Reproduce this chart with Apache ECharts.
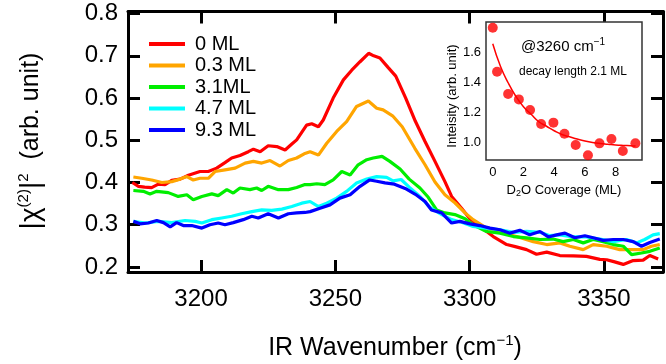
<!DOCTYPE html>
<html><head><meta charset="utf-8">
<script src="https://cdn.jsdelivr.net/npm/echarts@6/dist/echarts.min.js"></script>
<style>html,body{margin:0;padding:0;background:#fff}#c{width:666px;height:364px}</style>
</head><body><div id="c"></div>
<script>
// ---------- data ----------
const seriesNames = ['0 ML', '0.3 ML', '3.1ML', '4.7 ML', '9.3 ML'];
const xTickValues = [3200, 3250, 3300, 3350];
const yTickValues = [0.2, 0.3, 0.4, 0.5, 0.6, 0.7, 0.8];

// [IR wavenumber (cm-1), |chi(2)|^2]
const ml00 = [[3174.4,0.400],[3176.7,0.391],[3179,0.389],[3181.6,0.388],[3184.1,0.396],[3186.6,0.395],[3189.1,0.405],[3192.2,0.408],[3195.3,0.417],[3199.6,0.426],[3202.7,0.426],[3205.8,0.434],[3208.9,0.447],[3211.4,0.458],[3214.5,0.464],[3217.6,0.473],[3219.5,0.479],[3222,0.473],[3225,0.487],[3228.2,0.485],[3231.3,0.477],[3233.8,0.491],[3235.6,0.501],[3239.3,0.536],[3241.2,0.539],[3243.7,0.532],[3245.5,0.548],[3249.2,0.600],[3253,0.643],[3256.1,0.666],[3259.2,0.686],[3262.4,0.706],[3264.3,0.700],[3266.6,0.695],[3269.7,0.672],[3272.5,0.652],[3276.2,0.600],[3279.8,0.545],[3283.4,0.497],[3287.1,0.450],[3290.8,0.402],[3293.3,0.367],[3297,0.339],[3300.1,0.314],[3305.1,0.290],[3308.8,0.272],[3313.8,0.253],[3317,0.248],[3321.2,0.241],[3324.9,0.230],[3328.7,0.235],[3333.6,0.227],[3338.6,0.226],[3343.5,0.225],[3348.5,0.218],[3351,0.217],[3354,0.212],[3357.2,0.206],[3360.9,0.215],[3364.6,0.216],[3367.1,0.227],[3370.2,0.219]];
const ml03 = [[3174.8,0.413],[3177.9,0.410],[3181.6,0.406],[3185.4,0.400],[3189.1,0.402],[3192.2,0.408],[3194.7,0.414],[3197.1,0.406],[3199.6,0.410],[3202.7,0.410],[3205.2,0.426],[3208.9,0.430],[3212.7,0.434],[3216.4,0.446],[3219.5,0.450],[3222.6,0.446],[3225.7,0.452],[3229.4,0.439],[3232.5,0.452],[3235.6,0.458],[3238.4,0.468],[3240.6,0.473],[3243.7,0.465],[3246.8,0.493],[3250.5,0.521],[3254.2,0.544],[3257.9,0.580],[3262.3,0.593],[3265.4,0.576],[3267.8,0.572],[3271.3,0.558],[3274.9,0.532],[3279.6,0.481],[3283.4,0.442],[3287.1,0.401],[3290.8,0.371],[3294.5,0.352],[3298.3,0.328],[3301.3,0.312],[3306.3,0.292],[3312.5,0.280],[3317.5,0.272],[3323.7,0.260],[3328.7,0.253],[3333.6,0.257],[3337.3,0.249],[3342.3,0.241],[3346,0.253],[3351,0.249],[3355.9,0.241],[3360.9,0.241],[3364.6,0.241],[3367.7,0.249],[3370.8,0.253]];
const ml31 = [[3174.8,0.381],[3178.5,0.379],[3181,0.373],[3183.5,0.379],[3187.8,0.376],[3191.5,0.367],[3194.7,0.371],[3197.1,0.359],[3200.3,0.367],[3204,0.373],[3206.4,0.369],[3209.6,0.383],[3212,0.375],[3214.5,0.387],[3218.2,0.383],[3220.7,0.387],[3222.6,0.381],[3225,0.391],[3228.8,0.383],[3232.5,0.383],[3235.6,0.388],[3238.7,0.395],[3240.6,0.395],[3243.1,0.397],[3246.1,0.395],[3249.2,0.406],[3252.4,0.426],[3255.5,0.418],[3258.5,0.442],[3261.7,0.454],[3264.1,0.458],[3267.4,0.462],[3270.3,0.450],[3274.1,0.432],[3277.5,0.408],[3281.5,0.387],[3284.6,0.365],[3287.7,0.335],[3290.8,0.328],[3294.5,0.324],[3298.3,0.314],[3301.3,0.300],[3306.3,0.284],[3311.3,0.280],[3316.3,0.272],[3321.2,0.269],[3326.2,0.265],[3331.1,0.266],[3334.8,0.260],[3338.6,0.265],[3342.3,0.257],[3346,0.265],[3349.7,0.260],[3353.5,0.253],[3357.2,0.249],[3360.3,0.229],[3364,0.233],[3367.1,0.237],[3370.8,0.245]];
const ml47 = [[3174.8,0.308],[3179.2,0.304],[3184.1,0.308],[3189.1,0.305],[3194,0.310],[3197.8,0.308],[3200.3,0.304],[3204,0.312],[3207.7,0.316],[3211.4,0.320],[3215.1,0.326],[3218.9,0.331],[3222.6,0.335],[3226.3,0.334],[3230.1,0.337],[3233.8,0.343],[3237.5,0.351],[3240.6,0.355],[3243.7,0.343],[3246.8,0.351],[3250.5,0.363],[3254.2,0.379],[3257.9,0.399],[3261.7,0.408],[3265.4,0.414],[3269.1,0.412],[3271.5,0.404],[3274.5,0.407],[3277.5,0.389],[3281.8,0.365],[3285.2,0.341],[3289.6,0.324],[3293.3,0.312],[3297,0.306],[3301.3,0.296],[3306.3,0.292],[3311.3,0.288],[3316.3,0.282],[3321.2,0.284],[3326.2,0.282],[3329.9,0.274],[3333.6,0.276],[3338.6,0.271],[3343.5,0.271],[3348.5,0.266],[3353.5,0.260],[3358.4,0.265],[3362.2,0.257],[3365.2,0.265],[3368.3,0.276],[3370.8,0.279]];
const ml93 = [[3174.8,0.308],[3177.3,0.302],[3180.4,0.304],[3183.5,0.310],[3186,0.305],[3188.5,0.295],[3190.9,0.305],[3193.4,0.298],[3196.5,0.298],[3200.3,0.292],[3203.3,0.300],[3206.4,0.304],[3208.9,0.300],[3212,0.305],[3215.7,0.312],[3218.9,0.320],[3221.3,0.316],[3225,0.326],[3228.8,0.316],[3232.5,0.326],[3235.6,0.328],[3238.7,0.329],[3240.6,0.331],[3244.3,0.339],[3248,0.347],[3251.7,0.363],[3255.5,0.371],[3259.2,0.391],[3262.8,0.406],[3265.4,0.403],[3268.5,0.399],[3272,0.396],[3276,0.386],[3279.8,0.372],[3283.4,0.355],[3285.8,0.335],[3289.6,0.328],[3293.3,0.304],[3296.4,0.308],[3300.1,0.302],[3303.8,0.298],[3307.6,0.292],[3311.3,0.288],[3315,0.280],[3318.7,0.287],[3322.4,0.276],[3326.2,0.284],[3329.3,0.271],[3332.4,0.276],[3335.5,0.280],[3339.2,0.269],[3342.9,0.274],[3346,0.269],[3349.7,0.263],[3353.5,0.265],[3357.2,0.265],[3360.9,0.260],[3364,0.249],[3367.1,0.258],[3370.8,0.266]];

// inset: intensity at 3260 cm-1 vs D2O coverage
const insetCoverage = [0, 0.28, 1.0, 1.7, 2.43, 3.15, 3.95, 4.67, 5.4, 6.2, 6.95, 7.73, 8.47, 9.29];
const insetIntensity = [1.767, 1.473, 1.325, 1.289, 1.218, 1.125, 1.134, 1.06, 0.985, 0.917, 0.996, 1.025, 0.945, 0.996];
const fitCoverage = [0, 0.5, 1, 1.5, 2, 2.5, 3, 3.5, 4, 4.5, 5, 5.5, 6, 6.5, 7, 7.5, 8, 8.5, 9, 9.3];
const fitIntensity = [1.66, 1.51, 1.40, 1.31, 1.24, 1.19, 1.14, 1.11, 1.08, 1.055, 1.04, 1.025, 1.012, 1.002, 0.995, 0.99, 0.985, 0.982, 0.98, 0.978];
const insetXTicks = [0, 2, 4, 6, 8];
const insetYTicks = [1.0, 1.2, 1.4, 1.6];

// ---------- chart ----------
const FONT = 'Liberation Sans';
const lineColors = ['#ff0000', '#ffa500', '#00ee00', '#00ffff', '#0000ff'];
const mainData = [ml00, ml03, ml31, ml47, ml93];

const chart = echarts.init(document.getElementById('c'), null, {renderer: 'canvas'});

function frameAxis(pos, isX, show) {
  const base = {
    gridIndex: 0, type: 'value', position: pos,
    axisLine: {show: true, onZero: false, lineStyle: {color: '#000', width: 3}},
    axisTick: {show: true, inside: true, length: 12, lineStyle: {color: '#000', width: 3},
               customValues: isX ? xTickValues : yTickValues},
    splitLine: {show: false},
    axisLabel: {show: show, color: '#000', fontFamily: FONT, fontSize: 24,
                margin: isX ? 15 : 10,
                customValues: isX ? xTickValues : yTickValues,
                formatter: isX ? (v => String(v)) : (v => v.toFixed(1))}
  };
  if (isX) { base.min = 3172.8; base.max = 3372; }
  else { base.min = 0.188; base.max = 0.805; }
  return base;
}
function insetAxis(pos, isX, show) {
  const base = {
    gridIndex: 1, type: 'value', position: pos,
    axisLine: {show: false},
    axisTick: {show: true, inside: true, length: 5, lineStyle: {color: '#222', width: 1.5},
               customValues: isX ? insetXTicks : insetYTicks},
    splitLine: {show: false},
    axisLabel: {show: show, color: '#000', fontFamily: FONT, fontSize: 13,
                margin: isX ? 6 : 5,
                customValues: isX ? insetXTicks : insetYTicks,
                formatter: isX ? (v => String(v)) : (v => v.toFixed(1))}
  };
  if (isX) { base.min = -0.44; base.max = 9.72; }
  else { base.min = 0.885; base.max = 1.805; }
  return base;
}

const series = mainData.map((d, i) => ({
  name: seriesNames[i], type: 'line', xAxisIndex: 0, yAxisIndex: 0,
  data: d, showSymbol: false, symbol: 'none',
  lineStyle: {color: lineColors[i], width: 3.2}, itemStyle: {color: lineColors[i]},
  z: 2 + i, animation: false
}));
series.push({
  type: 'line', xAxisIndex: 2, yAxisIndex: 2,
  data: fitCoverage.map((c, i) => [c, fitIntensity[i]]),
  showSymbol: false, symbol: 'none', smooth: true,
  lineStyle: {color: '#ff0000', width: 1.5}, z: 20, animation: false
});
series.push({
  type: 'scatter', xAxisIndex: 2, yAxisIndex: 2,
  data: insetCoverage.map((c, i) => [c, insetIntensity[i]]),
  symbol: 'circle', symbolSize: 10, itemStyle: {color: '#ff0000'}, z: 21, animation: false
});

const option = {
  backgroundColor: '#fff',
  animation: false,
  grid: [
    {left: 128, top: 11.5, width: 535, height: 260.5, containLabel: false, outerBoundsMode: 'none'},
    {left: 486, top: 22, width: 156, height: 138, containLabel: false, outerBoundsMode: 'none',
     show: true, backgroundColor: '#fff', borderColor: '#333', borderWidth: 1.5, z: 10}
  ],
  xAxis: [frameAxis('bottom', true, true), frameAxis('top', true, false), insetAxis('bottom', true, true), insetAxis('top', true, false)],
  yAxis: [frameAxis('left', false, true), frameAxis('right', false, false), insetAxis('left', false, true), insetAxis('right', false, false)],
  legend: {
    data: seriesNames, orient: 'vertical', left: 149, top: 34, padding: 0,
    icon: 'rect', itemWidth: 36, itemHeight: 4, itemGap: 1.5,
    textStyle: {color: '#000', fontFamily: FONT, fontSize: 20, lineHeight: 20, padding: [0, 0, 0, 5]},
    selectedMode: false
  },
  graphic: [
    {type: 'text', x: 31, y: 141, rotation: Math.PI / 2, z: 50,
     style: {text: '{a||χ}{s|(2)}{a||}{s|2}{b|  (arb. unit)}', align: 'center', verticalAlign: 'middle',
       rich: {a: {fontSize: 28, fontFamily: FONT, fill: '#000', lineHeight: 30},
              s: {fontSize: 15, fontFamily: FONT, fill: '#000', verticalAlign: 'top', lineHeight: 15},
              b: {fontSize: 25, fontFamily: FONT, fill: '#000', lineHeight: 30}}}},
    {type: 'text', x: 395, y: 348, z: 50,
     style: {text: '{a|IR Wavenumber (cm}{s|−1}{a|)}', align: 'center', verticalAlign: 'middle',
       rich: {a: {fontSize: 25, fontFamily: FONT, fill: '#000', lineHeight: 30},
              s: {fontSize: 15, fontFamily: FONT, fill: '#000', verticalAlign: 'top', lineHeight: 15}}}},
    {type: 'text', x: 563, y: 47, z: 50,
     style: {text: '{a|@3260 cm}{s|−1}', align: 'center', verticalAlign: 'middle',
       rich: {a: {fontSize: 15, fontFamily: FONT, fill: '#000', lineHeight: 20},
              s: {fontSize: 10, fontFamily: FONT, fill: '#000', verticalAlign: 'top', lineHeight: 10}}}},
    {type: 'text', x: 573, y: 72, z: 50,
     style: {text: 'decay length 2.1 ML', align: 'center', verticalAlign: 'middle',
       fontSize: 12, fontFamily: FONT, fill: '#000'}},
    {type: 'text', x: 564, y: 190, z: 50,
     style: {text: '{a|D}{b|2}{a|O Coverage (ML)}', align: 'center', verticalAlign: 'middle',
       rich: {a: {fontSize: 13, fontFamily: FONT, fill: '#000', lineHeight: 16},
              b: {fontSize: 9, fontFamily: FONT, fill: '#000', verticalAlign: 'bottom', lineHeight: 9}}}},
    {type: 'text', x: 452, y: 96, rotation: Math.PI / 2, z: 50,
     style: {text: 'Inteisity (arb. unit)', align: 'center', verticalAlign: 'middle',
       fontSize: 13, fontFamily: FONT, fill: '#000'}}
  ],
  series: series
};
chart.setOption(option);
</script>
</body></html>
